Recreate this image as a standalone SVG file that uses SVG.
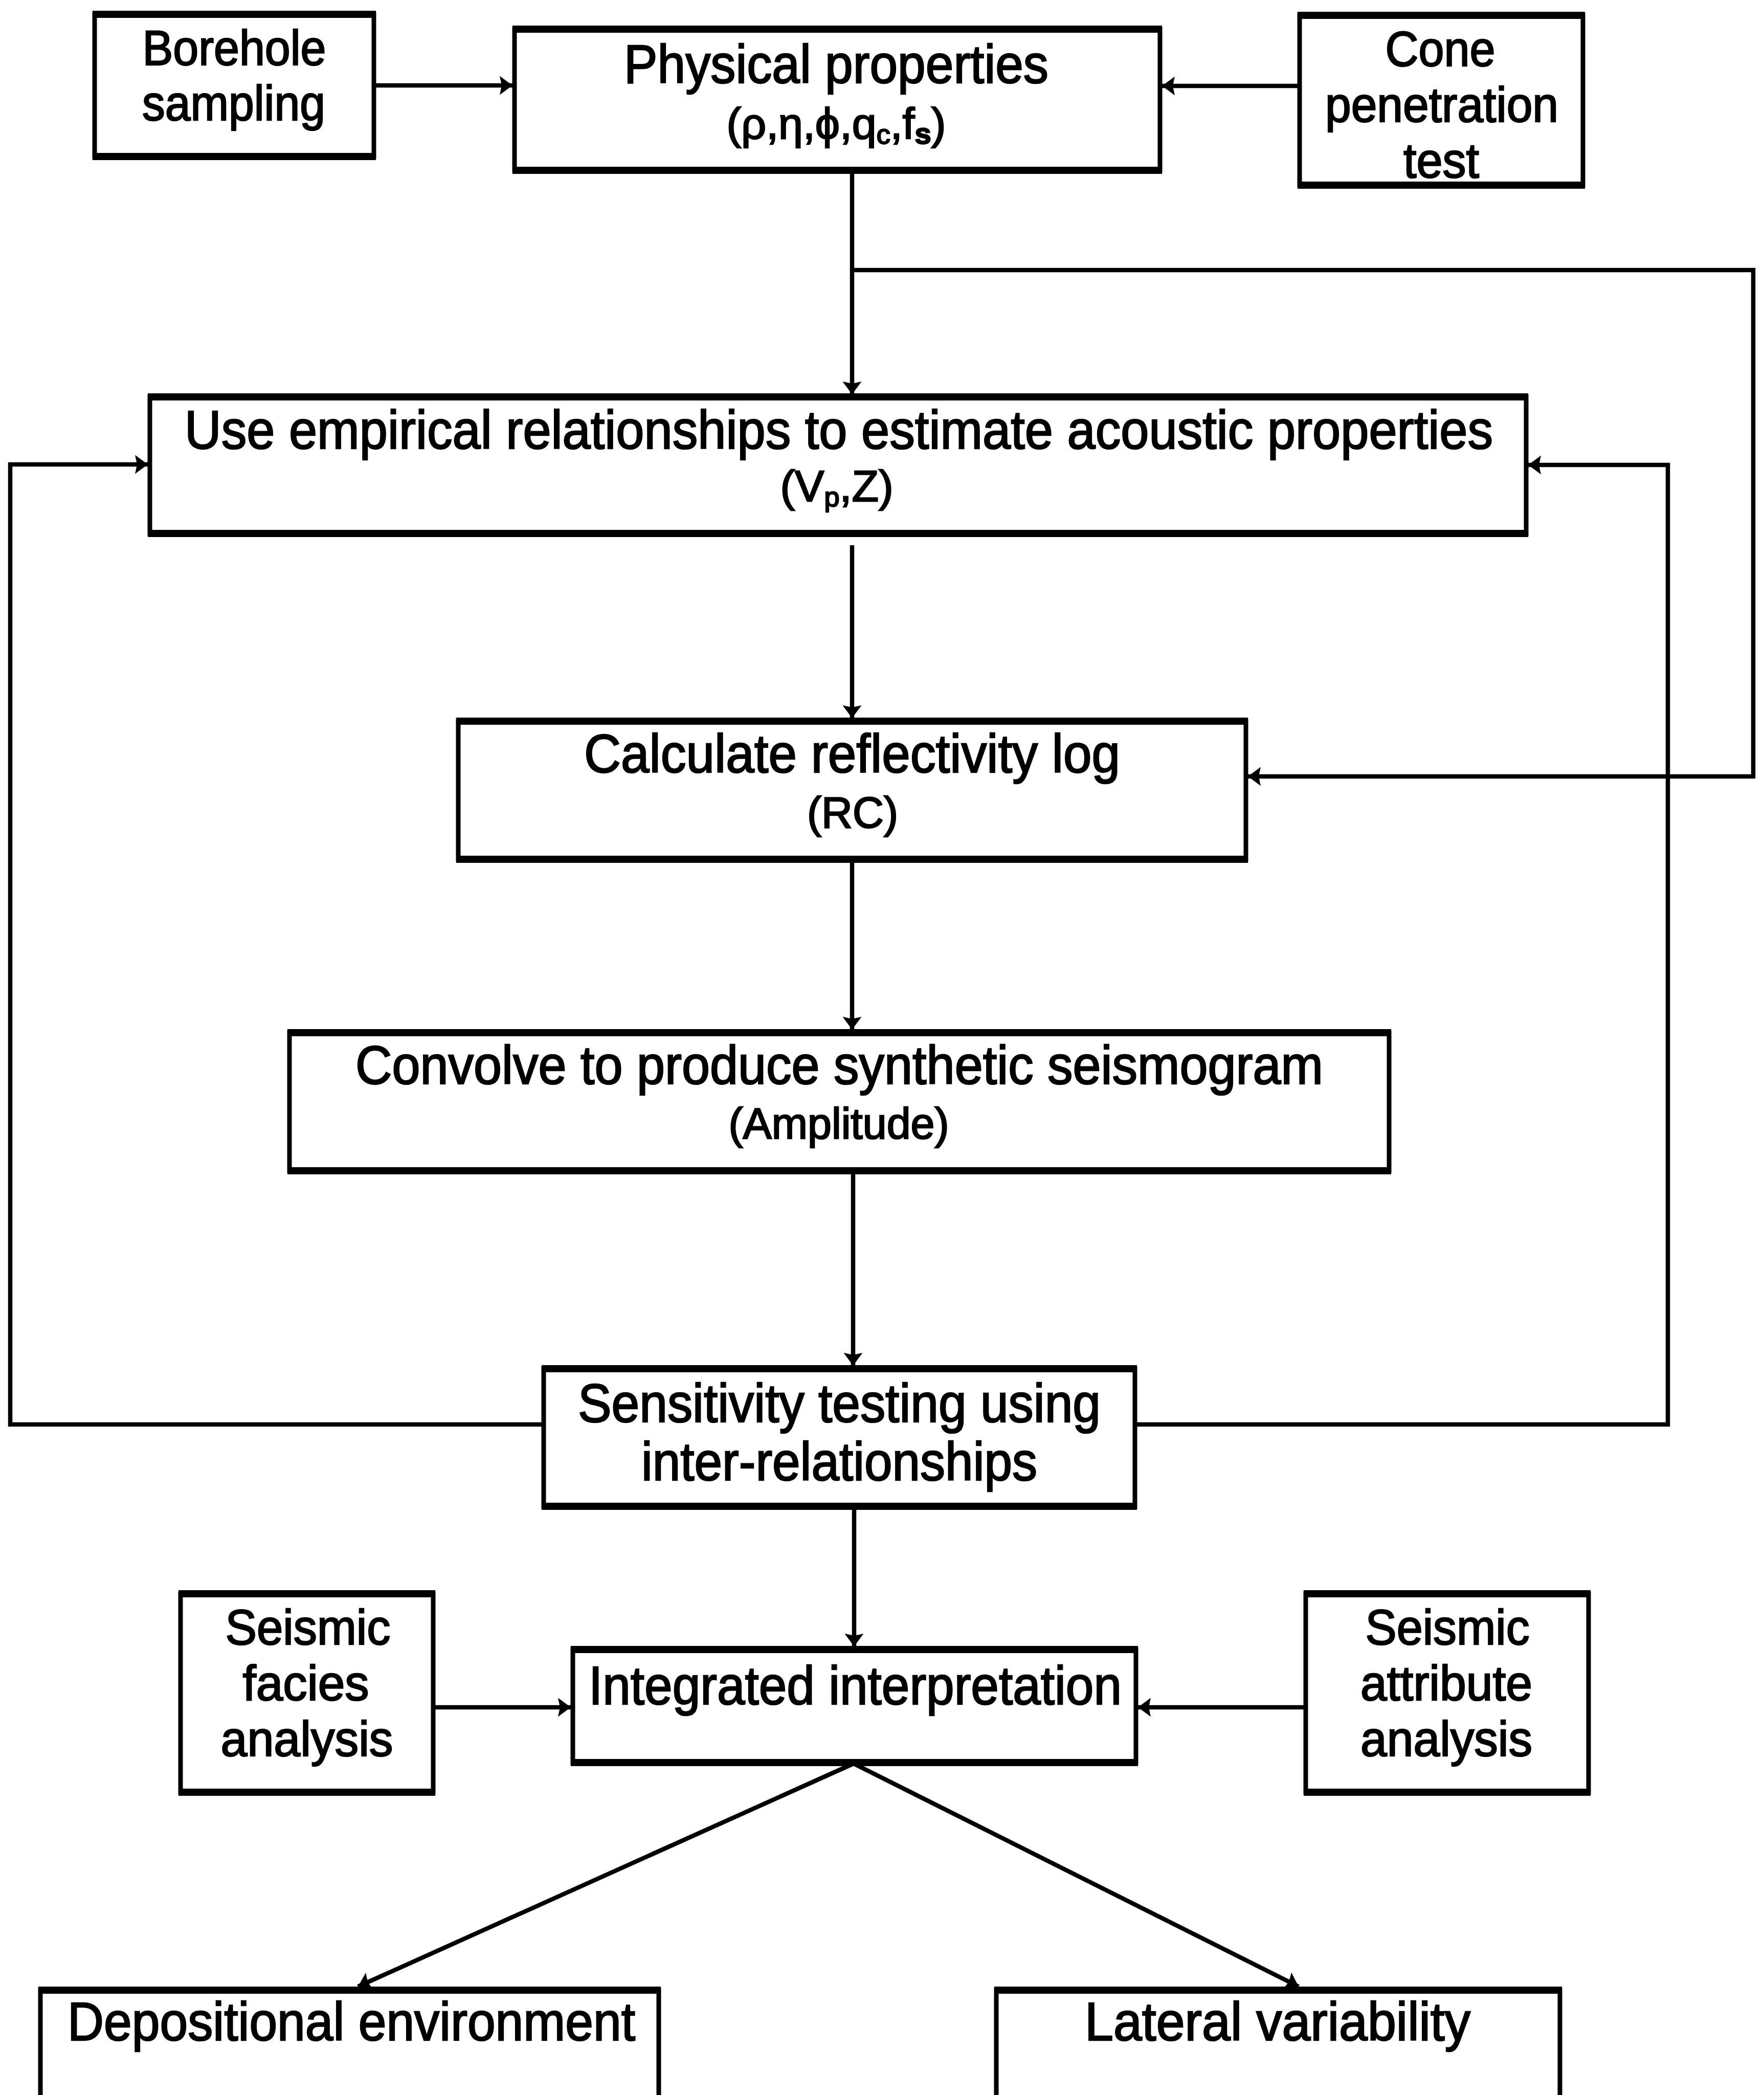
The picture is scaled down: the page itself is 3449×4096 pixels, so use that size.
<svg xmlns="http://www.w3.org/2000/svg" width="3449" height="4096" viewBox="0 0 3449 4096">
<defs>
<style>
.box{fill:#fff;stroke:#000;stroke-width:9}
.tb{stroke:#000;stroke-width:14;fill:none}
.c{fill:none;stroke:#000;stroke-width:8.5}
text{font-family:"Liberation Sans",Arial,Helvetica,sans-serif;fill:#000;stroke:#000;stroke-width:2.5;text-anchor:middle}
.s{font-size:96px}
.m{font-size:105px}
.sub{font-size:86px}
</style>
<marker id="ah" viewBox="0 0 25 37" refX="25" refY="18.5" markerWidth="25" markerHeight="37" markerUnits="userSpaceOnUse" orient="auto">
<path d="M0,0 L25,18.5 L0,37 L4,18.5 z" fill="#000"/>
</marker>
</defs>
<rect width="3449" height="4096" fill="#fff"/>

<g id="connectors">
<line class="c" x1="731" y1="167" x2="1002" y2="167" marker-end="url(#ah)"/>
<line class="c" x1="2541" y1="168" x2="2272" y2="168" marker-end="url(#ah)"/>
<line class="c" x1="1666" y1="333" x2="1666" y2="771" marker-end="url(#ah)"/>
<polyline class="c" points="1666,528 3428,528 3428,1518 2440,1518" marker-end="url(#ah)"/>
<line class="c" x1="1666" y1="1066" x2="1666" y2="1404" marker-end="url(#ah)"/>
<line class="c" x1="1666" y1="1680" x2="1666" y2="2013" marker-end="url(#ah)"/>
<line class="c" x1="1668" y1="2289" x2="1668" y2="2670" marker-end="url(#ah)"/>
<polyline class="c" points="1063,2785 20,2785 20,908 289,908" marker-end="url(#ah)"/>
<polyline class="c" points="2219,2785 3261,2785 3261,909 2988,909" marker-end="url(#ah)"/>
<line class="c" x1="1670" y1="2945" x2="1670" y2="3219" marker-end="url(#ah)"/>
<line class="c" x1="847" y1="3338" x2="1116" y2="3338" marker-end="url(#ah)"/>
<line class="c" x1="2553" y1="3338" x2="2225" y2="3338" marker-end="url(#ah)"/>
<line class="c" x1="1669" y1="3448" x2="700" y2="3884" marker-end="url(#ah)"/>
<line class="c" x1="1669" y1="3448" x2="2539" y2="3884" marker-end="url(#ah)"/>
</g>

<g id="borehole">
<rect class="box" x="185" y="28" width="546" height="278"/>
<line class="tb" x1="181" y1="28" x2="735" y2="28"/><line class="tb" x1="181" y1="306" x2="735" y2="306"/>
<text class="s" x="458" y="127" textLength="359" lengthAdjust="spacingAndGlyphs">Borehole</text>
<text class="s" x="457" y="235" textLength="358" lengthAdjust="spacingAndGlyphs">sampling</text>
</g>

<g id="physical">
<rect class="box" x="1006" y="57" width="1262" height="276"/>
<line class="tb" x1="1002" y1="57" x2="2272" y2="57"/><line class="tb" x1="1002" y1="333" x2="2272" y2="333"/>
<text class="m" x="1635" y="162" textLength="830" lengthAdjust="spacingAndGlyphs">Physical properties</text>
<text class="sub" x="1635" y="271">(ρ,η,ϕ,q<tspan font-size="54" dy="10">c</tspan><tspan dy="-10">,f</tspan><tspan font-size="58" font-weight="bold" dy="10">s</tspan><tspan dy="-10">)</tspan></text>
</g>

<g id="cone">
<rect class="box" x="2541" y="30" width="554" height="332"/>
<line class="tb" x1="2537" y1="30" x2="3099" y2="30"/><line class="tb" x1="2537" y1="362" x2="3099" y2="362"/>
<text class="s" x="2816" y="129" textLength="215" lengthAdjust="spacingAndGlyphs">Cone</text>
<text class="s" x="2819" y="238" textLength="456" lengthAdjust="spacingAndGlyphs">penetration</text>
<text class="s" x="2818" y="347" textLength="148" lengthAdjust="spacingAndGlyphs">test</text>
</g>

<g id="empirical">
<rect class="box" x="293" y="776" width="2691" height="267"/>
<line class="tb" x1="289" y1="776" x2="2988" y2="776"/><line class="tb" x1="289" y1="1043" x2="2988" y2="1043"/>
<text class="m" x="1640" y="877" textLength="2558" lengthAdjust="spacingAndGlyphs">Use empirical relationships to estimate acoustic properties</text>
<text class="sub" x="1636" y="980">(V<tspan font-size="54" dy="10">p</tspan><tspan dy="-10">,Z)</tspan></text>
</g>

<g id="reflectivity">
<rect class="box" x="896" y="1410" width="1540" height="270"/>
<line class="tb" x1="892" y1="1410" x2="2440" y2="1410"/><line class="tb" x1="892" y1="1680" x2="2440" y2="1680"/>
<text class="m" x="1666" y="1510" textLength="1048" lengthAdjust="spacingAndGlyphs">Calculate reflectivity log</text>
<text class="sub" x="1667" y="1618" textLength="178" lengthAdjust="spacingAndGlyphs">(RC)</text>
</g>

<g id="convolve">
<rect class="box" x="566" y="2019" width="2150" height="270"/>
<line class="tb" x1="562" y1="2019" x2="2720" y2="2019"/><line class="tb" x1="562" y1="2289" x2="2720" y2="2289"/>
<text class="m" x="1641" y="2119" textLength="1892" lengthAdjust="spacingAndGlyphs">Convolve to produce synthetic seismogram</text>
<text class="sub" x="1640" y="2226" textLength="431" lengthAdjust="spacingAndGlyphs">(Amplitude)</text>
</g>

<g id="sensitivity">
<rect class="box" x="1063" y="2676" width="1156" height="269"/>
<line class="tb" x1="1059" y1="2676" x2="2223" y2="2676"/><line class="tb" x1="1059" y1="2945" x2="2223" y2="2945"/>
<text class="m" x="1641" y="2780" textLength="1022" lengthAdjust="spacingAndGlyphs">Sensitivity testing using</text>
<text class="m" x="1641" y="2894" textLength="774" lengthAdjust="spacingAndGlyphs">inter-relationships</text>
</g>

<g id="facies">
<rect class="box" x="353" y="3116" width="494" height="388"/>
<line class="tb" x1="349" y1="3116" x2="851" y2="3116"/><line class="tb" x1="349" y1="3504" x2="851" y2="3504"/>
<text class="s" x="602" y="3215" textLength="323" lengthAdjust="spacingAndGlyphs">Seismic</text>
<text class="s" x="598" y="3324" textLength="247" lengthAdjust="spacingAndGlyphs">facies</text>
<text class="s" x="600" y="3433" textLength="337" lengthAdjust="spacingAndGlyphs">analysis</text>
</g>

<g id="integrated">
<rect class="box" x="1120" y="3225" width="1101" height="221"/>
<line class="tb" x1="1116" y1="3225" x2="2225" y2="3225"/><line class="tb" x1="1116" y1="3446" x2="2225" y2="3446"/>
<text class="m" x="1672" y="3332" textLength="1042" lengthAdjust="spacingAndGlyphs">Integrated interpretation</text>
</g>

<g id="attribute">
<rect class="box" x="2553" y="3116" width="553" height="388"/>
<line class="tb" x1="2549" y1="3116" x2="3110" y2="3116"/><line class="tb" x1="2549" y1="3504" x2="3110" y2="3504"/>
<text class="s" x="2830" y="3215" textLength="321" lengthAdjust="spacingAndGlyphs">Seismic</text>
<text class="s" x="2828" y="3324" textLength="336" lengthAdjust="spacingAndGlyphs">attribute</text>
<text class="s" x="2828" y="3433" textLength="336" lengthAdjust="spacingAndGlyphs">analysis</text>
</g>

<g id="depositional">
<rect class="box" x="79" y="3891" width="1209" height="400"/>
<line class="tb" x1="75" y1="3891" x2="1292" y2="3891"/>
<text class="m" x="687" y="3989" textLength="1110" lengthAdjust="spacingAndGlyphs">Depositional environment</text>
</g>

<g id="lateral">
<rect class="box" x="1948" y="3891" width="1102" height="400"/>
<line class="tb" x1="1944" y1="3891" x2="3054" y2="3891"/>
<text class="m" x="2498" y="3989" textLength="754" lengthAdjust="spacingAndGlyphs">Lateral variability</text>
</g>
</svg>
